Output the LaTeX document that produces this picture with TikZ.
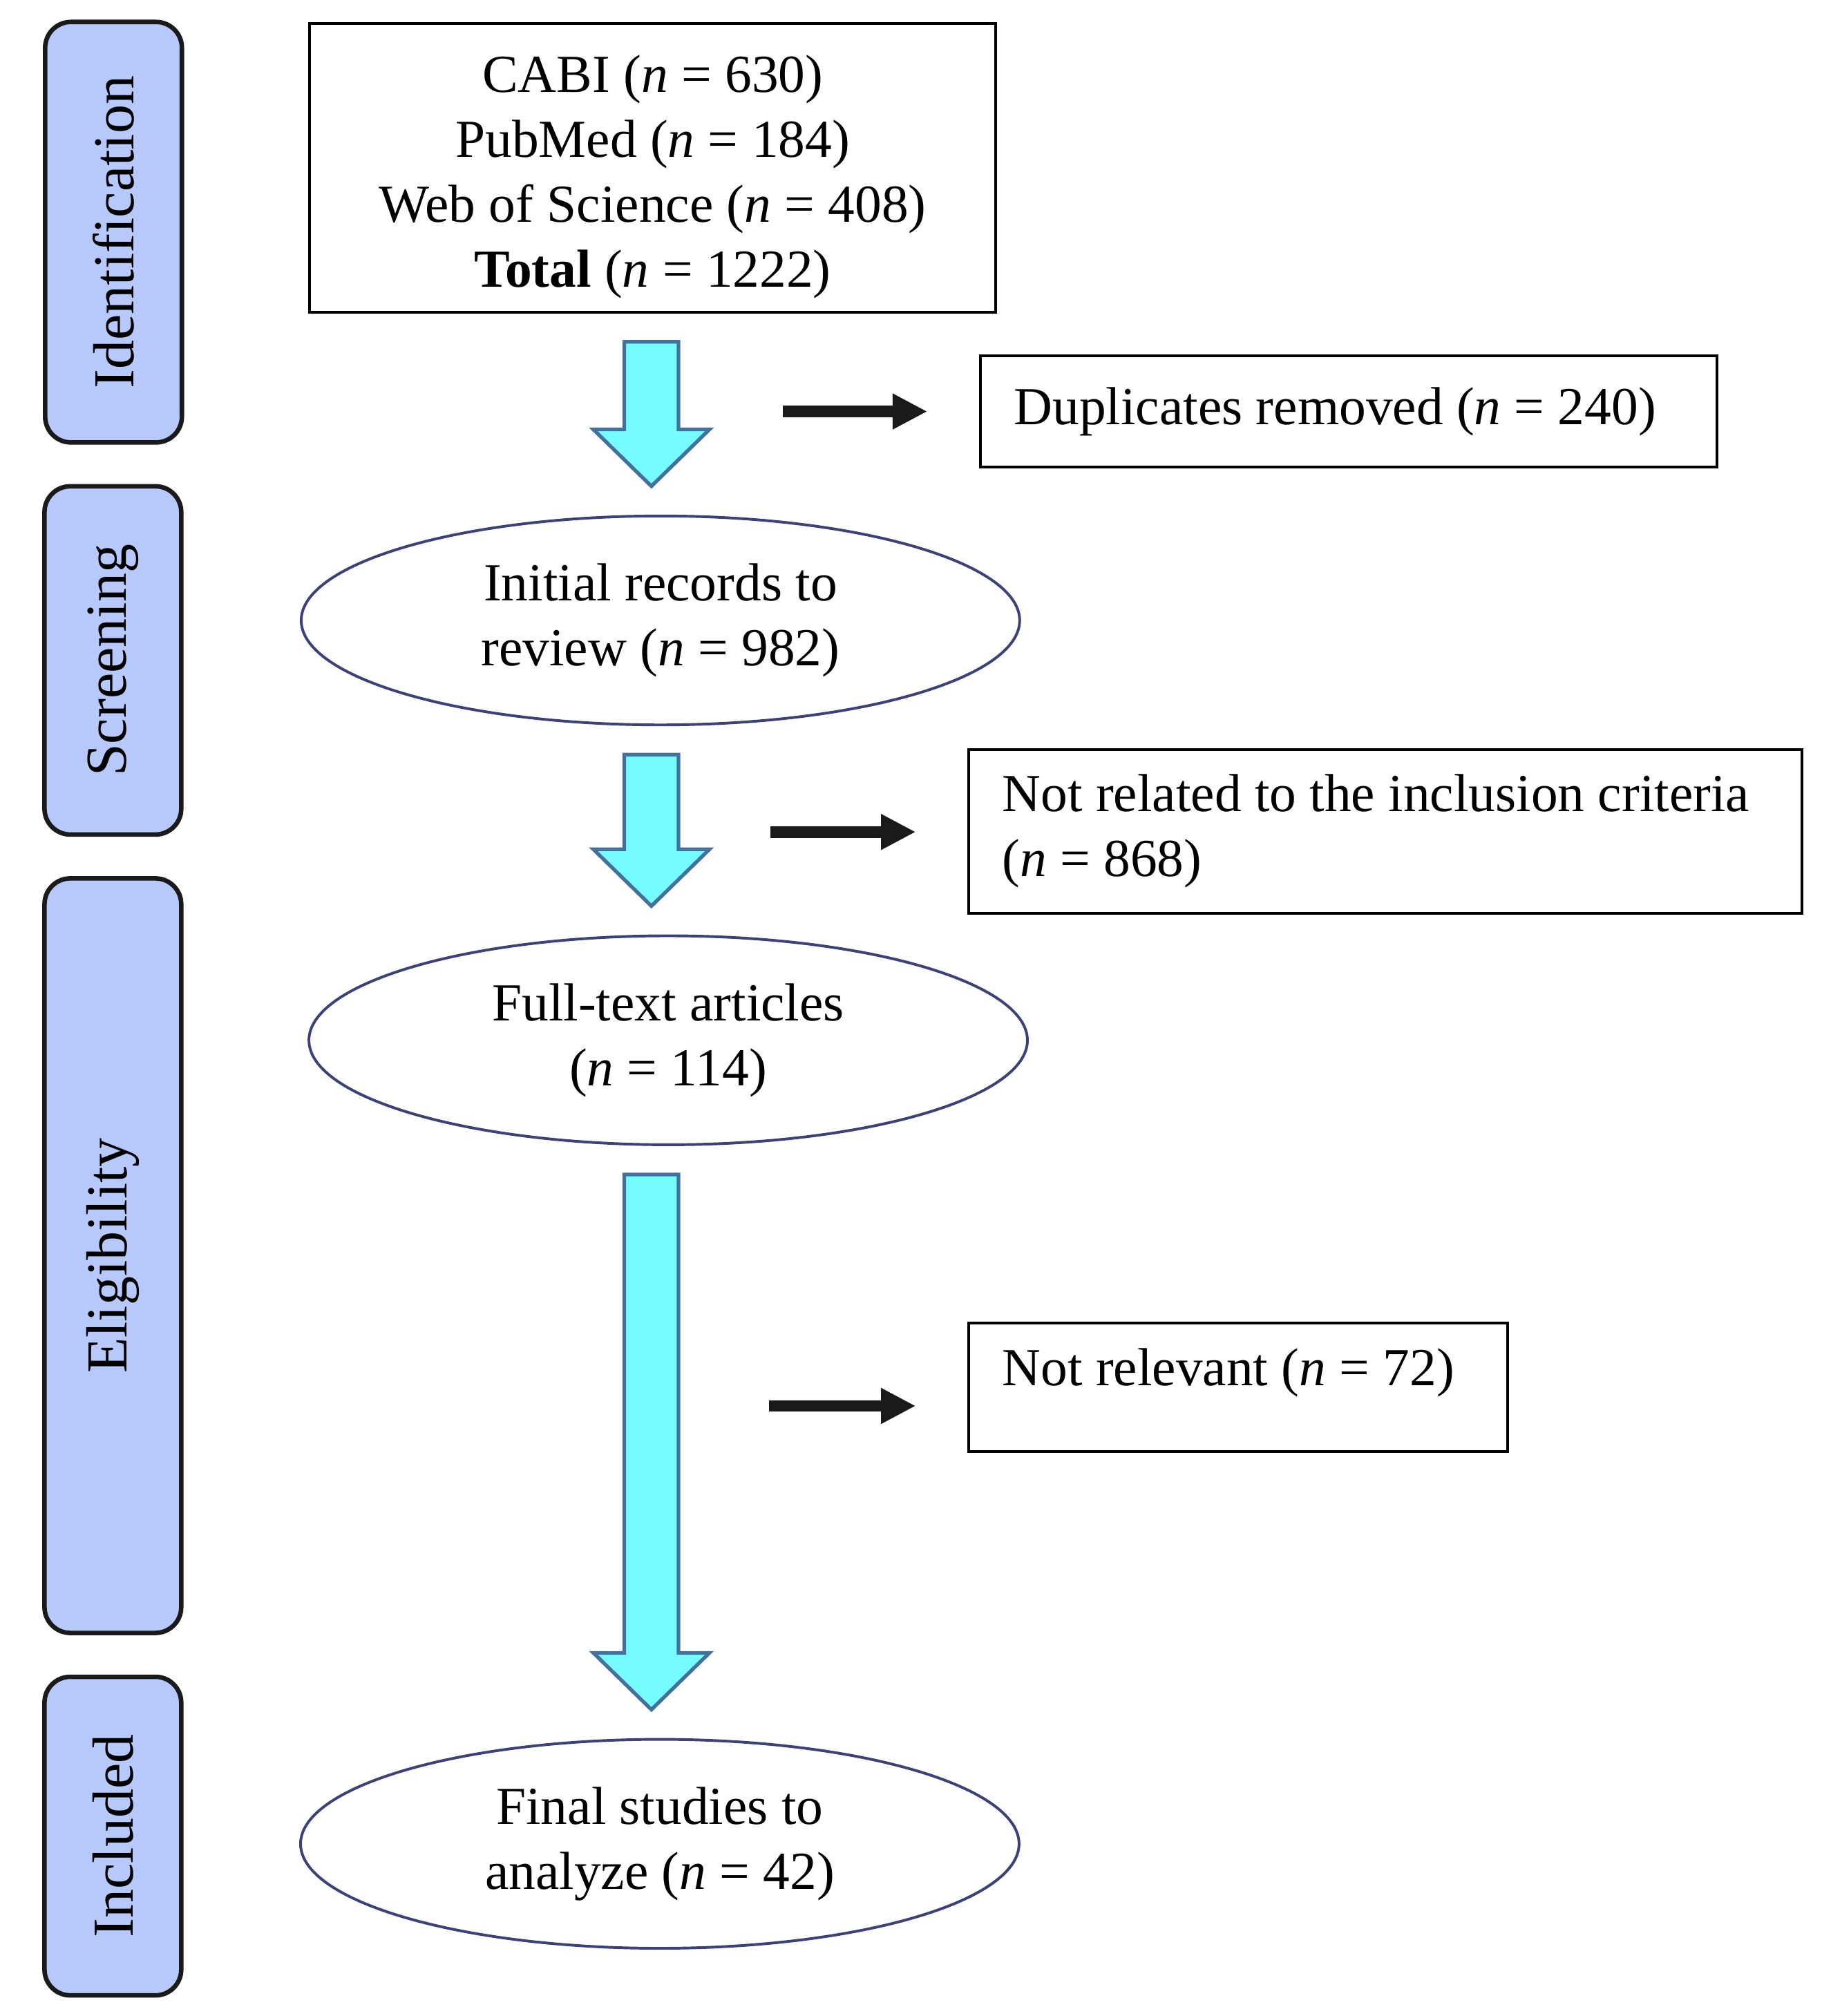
\documentclass[tikz,border=0pt]{standalone}
\usepackage{fontspec}
\setmainfont{Liberation Serif}
\usepackage{tikz}
\usetikzlibrary{arrows.meta,calc,shapes.geometric}

\definecolor{stagefill}{RGB}{182,201,250}
\definecolor{cyanfill}{RGB}{117,252,255}
\definecolor{cyanedge}{RGB}{65,113,156}
\definecolor{ovaledge}{RGB}{60,66,120}
\definecolor{darkline}{RGB}{26,26,26}

\newcommand{\boxfont}{\fontsize{11.8}{14.3}\selectfont}
\newcommand{\stagefont}{\fontsize{12.8}{15}\selectfont}

\tikzset{
	stage/.style={draw=darkline, line width=1pt, fill=stagefill, rounded corners=2mm, rotate=90, minimum height=1.06cm, inner sep=0pt, font=\stagefont},
	srcbox/.style={draw, line width=0.6pt, align=center, inner sep=0pt, font=\boxfont},
	exclbox/.style={draw, line width=0.6pt, align=flush left, inner xsep=0.26cm, inner ysep=0pt, font=\boxfont},
	oval/.style={ellipse, draw=ovaledge, line width=0.6pt, minimum width=5.57cm, minimum height=1.62cm, inner sep=0pt, align=center, font=\boxfont},
	blockarrow/.style={fill=cyanfill, draw=cyanedge, line width=0.8pt},
	sidearrow/.style={draw=darkline, line width=0.09cm, shorten >=4mm, -{Triangle[length=2.7mm,width=2.6mm]}}
}

\begin{document}
\begin{tikzpicture}
	\useasboundingbox (0,0) rectangle (14.12,-15.63);
	% stages
	\node[stage, minimum width=3.26cm] (ident) at (0.88,-1.80) {Identification};
	\node[stage, minimum width=2.70cm] (screen) at (0.875,-5.12) {Screening};
	\node[stage, minimum width=5.85cm] (elig) at (0.875,-9.735) {Eligibility};
	\node[stage, minimum width=2.47cm] (incl) at (0.875,-14.235) {Included};
	% main flow
	\node[srcbox, minimum width=5.32cm, minimum height=2.24cm] (sources) at (5.06,-1.30)
		{\rule{0pt}{0.43cm}CABI (\textit{n} = 630)\\PubMed (\textit{n} = 184)\\Web of Science (\textit{n} = 408)\\\textbf{Total} (\textit{n} = 1222)};
	\node[oval] (initial) at (5.12,-4.81) {Initial records to\\review (\textit{n} = 982)};
	\node[oval] (fulltext) at (5.18,-8.065) {Full-text articles\\(\textit{n} = 114)};
	\node[oval] (final) at (5.115,-14.295) {Final studies to\\analyze (\textit{n} = 42)};
	% excluded
	\node[exclbox, text width=5.19cm, minimum height=0.86cm] (dup) at (10.455,-3.19) {Duplicates removed (\textit{n} = 240)};
	\node[exclbox, text width=5.94cm, minimum height=1.27cm] (notrel) at (10.74,-6.445) {Not related to the inclusion criteria\\(\textit{n} = 868)};
	\node[exclbox, text width=3.66cm, minimum height=1.00cm, text depth=0.31cm] (notrelev) at (9.60,-10.755) {Not relevant (\textit{n} = 72)};
	% block arrows
	\foreach \src/\dst in {sources/initial, initial/fulltext, fulltext/final}
		\draw[blockarrow] let \p1=(\src.south), \p2=(\dst.north) in
			(4.84cm,\y1-0.22cm) -- (5.26cm,\y1-0.22cm) -- (5.26cm,\y2+0.66cm) -- (5.50cm,\y2+0.66cm)
			-- (5.05cm,\y2+0.22cm) -- (4.60cm,\y2+0.66cm) -- (4.84cm,\y2+0.66cm) -- cycle;
	% side arrows
	\coordinate (d1) at (6.07,-3.19);
	\coordinate (d2) at (5.97,-6.45);
	\coordinate (d3) at (5.96,-10.90);
	\draw[sidearrow] (d1) -- (d1 -| dup.west);
	\draw[sidearrow] (d2) -- (d2 -| notrel.west);
	\draw[sidearrow] (d3) -- (d3 -| notrelev.west);
\end{tikzpicture}
\end{document}
